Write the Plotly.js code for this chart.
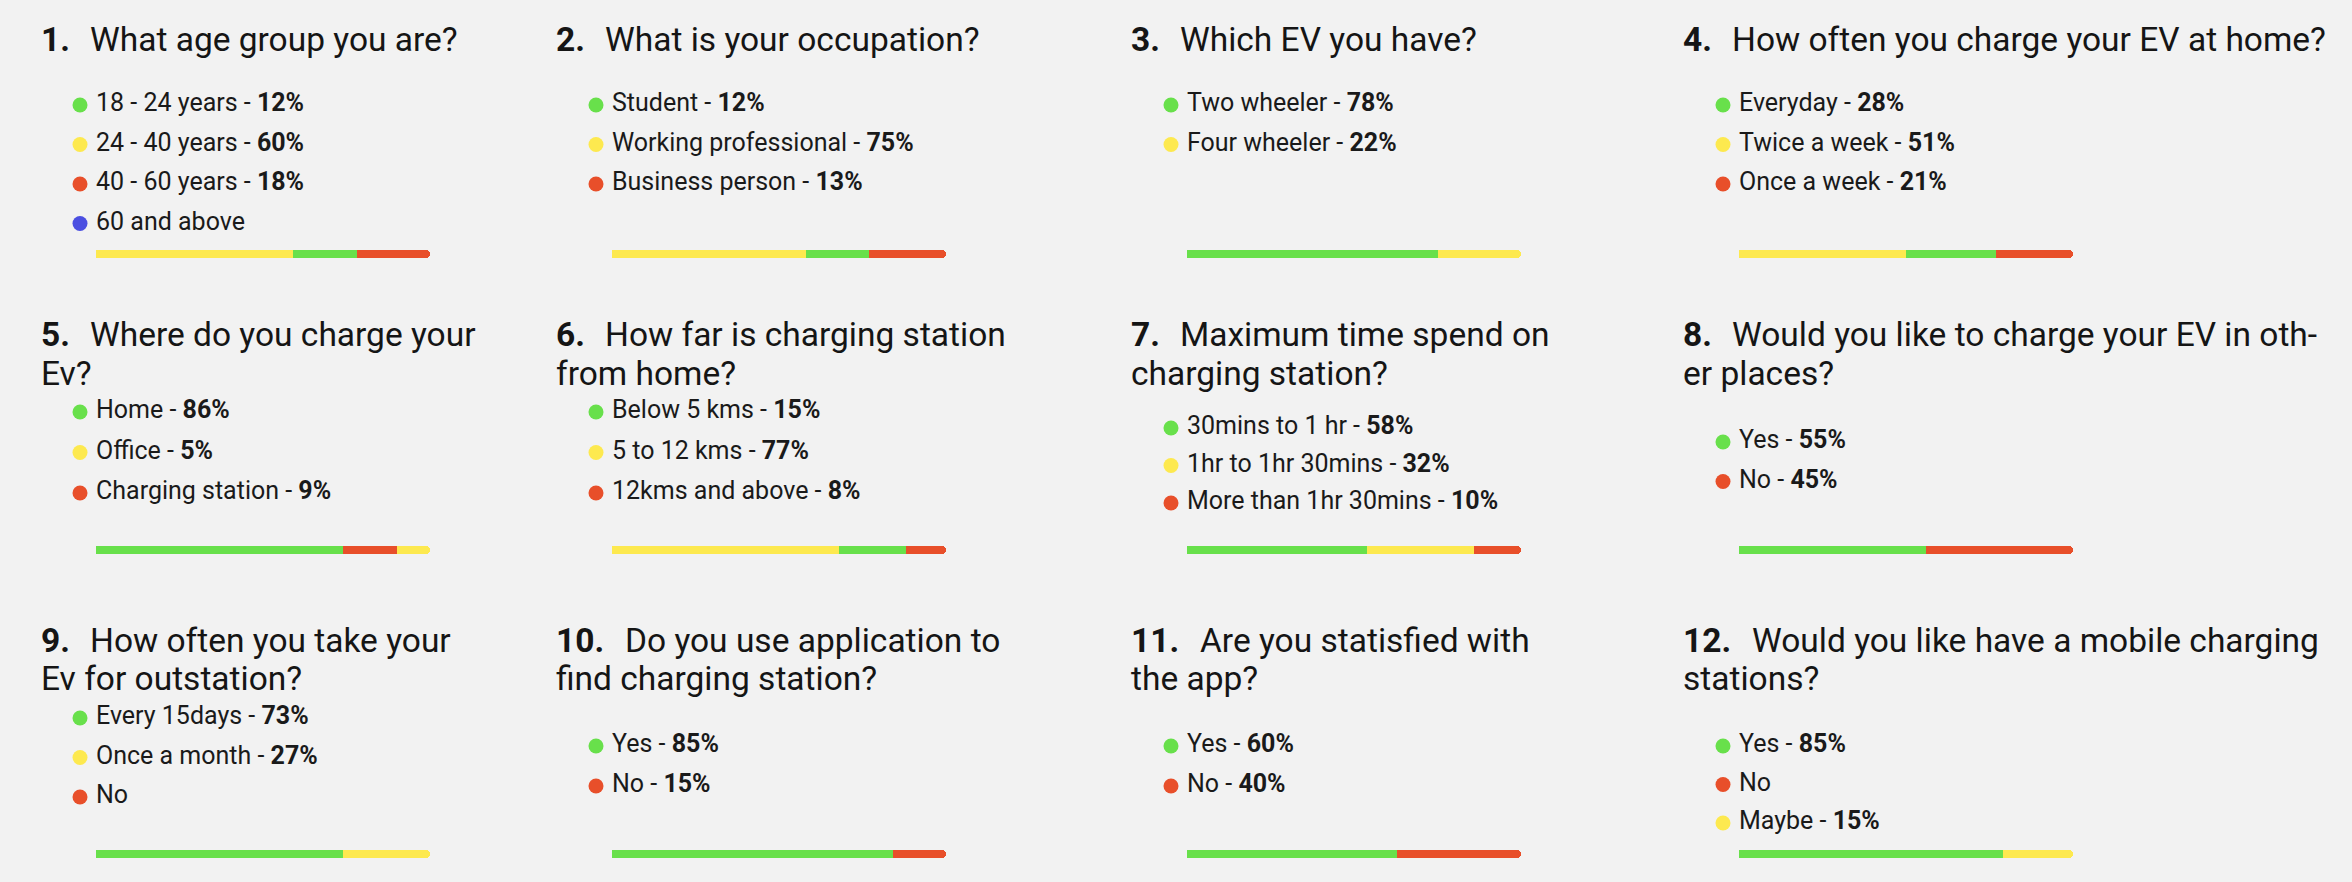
<!DOCTYPE html>
<html>
<head>
<meta charset="utf-8">
<script src="https://cdn.plot.ly/plotly-3.0.1.min.js"></script>
<style>
    html, body { margin: 0; padding: 0; background: #f2f2f2; }
    #survey { width: 2352px; height: 882px; }
</style>
</head>
<body>
<div id="survey"></div>
<script>
// survey questions, '\n' marks where the title wraps in the picture
const questions = [
    'What age group you are?',
    'What is your occupation?',
    'Which EV you have?',
    'How often you charge your EV at home?',
    'Where do you charge your\nEv?',
    'How far is charging station\nfrom home?',
    'Maximum time spend on\ncharging station?',
    'Would you like to charge your EV in oth-\ner places?',
    'How often you take your\nEv for outstation?',
    'Do you use application to\nfind charging station?',
    'Are you statisfied with\nthe app?',
    'Would you like have a mobile charging\nstations?'
];
const optionLabels = [
    ['18 - 24 years', '24 - 40 years', '40 - 60 years', '60 and above'],
    ['Student', 'Working professional', 'Business person'],
    ['Two wheeler', 'Four wheeler'],
    ['Everyday', 'Twice a week', 'Once a week'],
    ['Home', 'Office', 'Charging station'],
    ['Below 5 kms', '5 to 12 kms', '12kms and above'],
    ['30mins to 1 hr', '1hr to 1hr 30mins', 'More than 1hr 30mins'],
    ['Yes', 'No'],
    ['Every 15days', 'Once a month', 'No'],
    ['Yes', 'No'],
    ['Yes', 'No'],
    ['Yes', 'No', 'Maybe']
];
const optionPercents = [
    [12, 60, 18, null],
    [12, 75, 13],
    [78, 22],
    [28, 51, 21],
    [86, 5, 9],
    [15, 77, 8],
    [58, 32, 10],
    [55, 45],
    [73, 27, null],
    [85, 15],
    [60, 40],
    [85, null, 15]
];
const optionColours = [
    ['green', 'yellow', 'red', 'blue'],
    ['green', 'yellow', 'red'],
    ['green', 'yellow'],
    ['green', 'yellow', 'red'],
    ['green', 'yellow', 'red'],
    ['green', 'yellow', 'red'],
    ['green', 'yellow', 'red'],
    ['green', 'red'],
    ['green', 'yellow', 'red'],
    ['green', 'red'],
    ['green', 'red'],
    ['green', 'red', 'yellow']
];
// segment shares (they do not follow the legend exactly)
const barShares = [
    [59, 19, 22],
    [58, 19, 23],
    [75, 25],
    [50, 27, 23],
    [74, 16, 10],
    [68, 20, 12],
    [54, 32, 14],
    [56, 44],
    [74, 26],
    [84, 16],
    [63, 37],
    [79, 21]
];
const barColours = [
    ['yellow', 'green', 'red'],
    ['yellow', 'green', 'red'],
    ['green', 'yellow'],
    ['yellow', 'green', 'red'],
    ['green', 'red', 'yellow'],
    ['yellow', 'green', 'red'],
    ['green', 'yellow', 'red'],
    ['green', 'red'],
    ['green', 'yellow'],
    ['green', 'red'],
    ['green', 'red'],
    ['green', 'yellow']
];

// styles and page layout (pixels)
const palette = { green: '#68e04b', yellow: '#fde94f', red: '#e84f2a', blue: '#4b4fe1' };
const W = 2352, H = 882;
const numX = [39, 554, 1129, 1681];
const barX = [96, 612, 1187, 1739];
const barW = 334;
const padLeft = 26; // room left of the bar for the legend dots
const barY = [254, 550, 854];
const titleY = [[39], [334, 373], [640, 678]];
const legendTop = [105, 105, 105, 105, 412, 412, 428, 442, 718, 746, 746, 746];
const legendStep = [39.5, 39.5, 39.5, 39.5, 40.5, 40.5, 37.5, 39.5, 39.5, 40, 40, 38.5];
const dotOffset = 16;
const FONT = 'Roboto, "Noto Sans", sans-serif';
const unit = 100 / barW;

const traces = [];
const annotations = [];
const layout = {
    width: W,
    height: H,
    margin: { l: 0, r: 0, t: 0, b: 0, pad: 0 },
    paper_bgcolor: '#f2f2f2',
    plot_bgcolor: 'rgba(0,0,0,0)',
    showlegend: false,
    barmode: 'stack',
    barcornerradius: 4,
    yaxis: { domain: [0, 1], range: [H, 0], visible: false, fixedrange: true }
};

for (let c = 0; c < 4; c++) {
    const key = c === 0 ? 'xaxis' : 'xaxis' + (c + 1);
    layout[key] = {
        domain: [(barX[c] - padLeft) / W, (barX[c] + barW) / W],
        range: [-padLeft * unit, 100],
        visible: false,
        fixedrange: true,
        anchor: 'y'
    };
}

questions.forEach((question, p) => {
    const col = p % 4;
    const row = Math.floor(p / 4);
    const xa = col === 0 ? 'x' : 'x' + (col + 1);

    // title: bold number, then the wrapped question lines
    const number = (p + 1) + '.';
    const lines = question.split('\n');
    annotations.push({
        xref: 'paper', yref: 'y', x: numX[col] / W, y: titleY[row][0],
        xanchor: 'left', yanchor: 'middle', showarrow: false,
        text: '<b>' + number + '</b>',
        font: { family: FONT, size: 33.5, color: '#151515' }
    });
    lines.forEach((line, k) => {
        const x = k === 0 ? numX[col] + (p + 1 >= 10 ? 69 : 49) : numX[col];
        annotations.push({
            xref: 'paper', yref: 'y', x: x / W, y: titleY[row][k],
            xanchor: 'left', yanchor: 'middle', showarrow: false,
            text: line,
            font: { family: FONT, size: 33.5, color: '#151515' }
        });
    });

    // legend dots and labels
    const ys = optionLabels[p].map((_, i) => legendTop[p] + i * legendStep[p]);
    traces.push({
        type: 'scatter', mode: 'markers', xaxis: xa, yaxis: 'y',
        x: ys.map(() => -dotOffset * unit), y: ys,
        marker: { size: 15, color: optionColours[p].map(k => palette[k]), line: { width: 0 } },
        cliponaxis: false, hoverinfo: 'skip'
    });
    traces.push({
        type: 'scatter', mode: 'text', xaxis: xa, yaxis: 'y',
        x: ys.map(() => 0), y: ys,
        text: optionLabels[p].map((label, i) => optionPercents[p][i] === null
            ? label : label + ' - <b>' + optionPercents[p][i] + '%</b>'),
        textposition: 'middle right',
        textfont: { family: FONT, size: 25, color: '#1a1a1a' },
        cliponaxis: false, hoverinfo: 'skip'
    });

    // stacked share bar
    barShares[p].forEach((share, s) => {
        traces.push({
            type: 'bar', orientation: 'h', xaxis: xa, yaxis: 'y',
            x: [share], y: [barY[row]], width: 8,
            marker: { color: palette[barColours[p][s]], line: { width: 0 } },
            hoverinfo: 'skip'
        });
    });
});

layout.annotations = annotations;
Plotly.newPlot('survey', traces, layout, { displayModeBar: false, staticPlot: true });
</script>
</body>
</html>
